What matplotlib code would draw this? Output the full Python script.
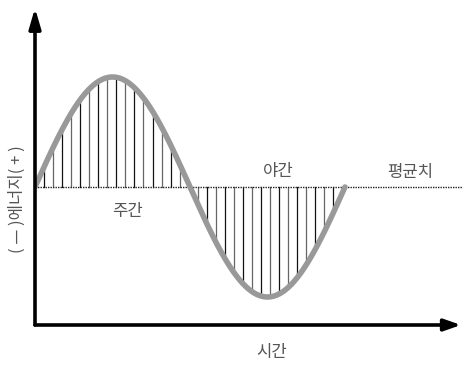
import matplotlib
matplotlib.use('Agg')
import matplotlib.pyplot as plt
import numpy as np

plt.rcParams['font.family'] = ['Noto Sans CJK KR', 'DejaVu Sans']

# conceptual data: one day of energy around its mean
period_h = 24.0
amplitude = 1.0
hatch_step = 0.7          # spacing of vertical hatch lines (hours)
day_label = '주간'
night_label = '야간'
mean_label = '평균치'
x_label = '시간'
y_label = '( — )에너지( + )'

t = np.linspace(0, period_h, 400)
energy = amplitude * np.sin(2 * np.pi * t / period_h)
t_hatch = np.arange(hatch_step, period_h - 0.2, hatch_step)
e_hatch = amplitude * np.sin(2 * np.pi * t_hatch / period_h)

fig = plt.figure(figsize=(4.62, 3.65), dpi=100)
# axes origin at pixel (35, 325)
ax = fig.add_axes([35 / 462, 40 / 365, 427 / 462, 325 / 365])
px_per_h = 310 / period_h
px_per_e = 110 / amplitude
ax.set_xlim(0, 427 / px_per_h)
ax.set_ylim(-138 / px_per_e, (325 - 138) / px_per_e)
ax.axis('off')

# hatch lines between mean and curve
for i, (th, eh) in enumerate(zip(t_hatch, e_hatch)):
    col = '#111111' if i % 2 == 0 else '#666666'
    ax.plot([th, th], [0, eh], color=col, lw=0.9, zorder=2)

# mean line (dotted)
ax.plot([0, 427 / px_per_h], [0, 0], color='#222222', lw=1.0,
        linestyle=(0, (1, 0.8)), zorder=2)

# curve
ax.plot(t, energy, color='#999999', lw=4.0, solid_capstyle='round', zorder=3)

# axis arrows
y0 = -138 / px_per_e
ax.annotate('', xy=(0, (325 - 8 - 138) / px_per_e), xytext=(0, y0),
            arrowprops=dict(arrowstyle='-|>,head_length=1.2,head_width=0.35',
                            color='black', lw=2.6, shrinkA=0, shrinkB=0),
            annotation_clip=False)
ax.annotate('', xy=(426 / px_per_h, y0), xytext=(0, y0),
            arrowprops=dict(arrowstyle='-|>,head_length=1.0,head_width=0.35',
                            color='black', lw=2.6, shrinkA=0, shrinkB=0),
            annotation_clip=False)

txt = dict(color='#555555', fontsize=12, ha='center', va='center')
ax.text(93 / px_per_h, -25 / px_per_e, day_label, **txt)
ax.text(243 / px_per_h, 15 / px_per_e, night_label, **txt)
ax.text(375 / px_per_h, 14 / px_per_e, mean_label, **txt)
fig.text(272 / 462, 1 - 353 / 365, x_label, **txt)
fig.text(17 / 462, 1 - 199 / 365, y_label, rotation=90, **txt)

fig.savefig('out.png', dpi=100)
